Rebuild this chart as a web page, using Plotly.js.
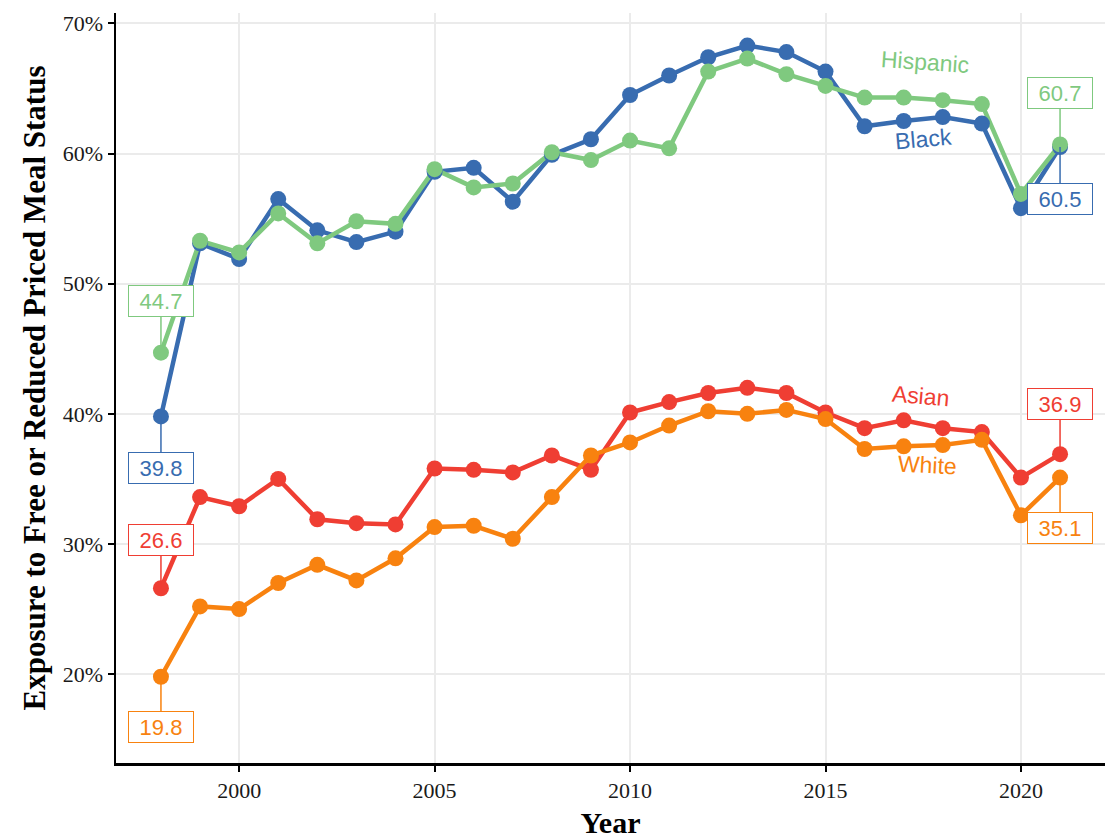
<!DOCTYPE html>
<html>
<head>
<meta charset="utf-8">
<script src="https://cdn.plot.ly/plotly-3.0.1.min.js"></script>
<style>html,body{margin:0;padding:0;background:#fff;}#chart{width:1109px;height:840px;}</style>
</head>
<body>
<div id="chart"></div>
<script>
const years = [1998,1999,2000,2001,2002,2003,2004,2005,2006,2007,2008,2009,2010,2011,2012,2013,2014,2015,2016,2017,2018,2019,2020,2021];
const asian    = [26.6,33.6,32.9,35.0,31.9,31.6,31.5,35.8,35.7,35.5,36.8,35.7,40.1,40.9,41.6,42.0,41.6,40.1,38.9,39.5,38.9,38.6,35.1,36.9];
const black    = [39.8,53.1,51.9,56.5,54.1,53.2,54.0,58.6,58.9,56.3,59.9,61.1,64.5,66.0,67.4,68.3,67.8,66.3,62.1,62.5,62.8,62.3,55.8,60.5];
const hispanic = [44.7,53.3,52.4,55.4,53.1,54.8,54.6,58.8,57.4,57.7,60.1,59.5,61.0,60.4,66.3,67.3,66.1,65.2,64.3,64.3,64.1,63.8,56.9,60.7];
const white    = [19.8,25.2,25.0,27.0,28.4,27.2,28.9,31.3,31.4,30.4,33.6,36.8,37.8,39.1,40.2,40.0,40.3,39.6,37.3,37.5,37.6,38.0,32.2,35.1];
const yTicks = [20,30,40,50,60,70];
const xTicks = [2000,2005,2010,2015,2020];

const groups = [
  {name:'Asian', y:asian, color:'#ef3e33'},
  {name:'Black', y:black, color:'#386cb0'},
  {name:'Hispanic', y:hispanic, color:'#7fc97f'},
  {name:'White', y:white, color:'#f8820f'}
];

const traces = [];
groups.forEach(g => traces.push({x:years, y:g.y, mode:'lines', line:{color:g.color, width:4.5}, hoverinfo:'skip', showlegend:false}));
groups.forEach(g => traces.push({x:years, y:g.y, mode:'markers', marker:{color:g.color, size:16}, name:g.name, showlegend:false}));

// value labels at first and last year
const labelOffsets = {
  Asian:    {first:-48, last:-50},
  Black:    {first: 52, last: 52},
  Hispanic: {first:-52, last:-51},
  White:    {first: 50, last: 50}
};
const annotations = [];
groups.forEach(g => {
  const n = g.y.length;
  [['first',0],['last',n-1]].forEach(([k,i]) => {
    annotations.push({
      x: years[i], y: g.y[i], xref:'x', yref:'y',
      text: g.y[i].toFixed(1),
      showarrow:true, arrowhead:0, arrowwidth:1.5, arrowcolor:g.color,
      ax:0, ay:labelOffsets[g.name][k], standoff:0,
      width:60, height:26,
      font:{family:'Liberation Sans, Arial, sans-serif', size:22, color:g.color},
      bgcolor:'#ffffff', bordercolor:g.color, borderwidth:1, borderpad:2
    });
  });
});
// curved-text style group names
const nameLabels = [
  {name:'Hispanic', x:2017.55, y:67.05, angle:4, color:'#7fc97f'},
  {name:'Black',    x:2017.5,  y:61.15, angle:-5, color:'#386cb0'},
  {name:'Asian',    x:2017.45, y:41.4, angle:5, color:'#ef3e33'},
  {name:'White',    x:2017.6,  y:36.1, angle:3, color:'#f8820f'}
];
nameLabels.forEach(l => annotations.push({
  x:l.x, y:l.y, xref:'x', yref:'y', text:l.name, showarrow:false, textangle:l.angle,
  font:{family:'Liberation Sans, Arial, sans-serif', size:23, color:l.color}
}));

const layout = {
  width:1109, height:840,
  margin:{l:116, r:4, t:13, b:77},
  paper_bgcolor:'#ffffff', plot_bgcolor:'#ffffff',
  showlegend:false,
  xaxis:{
    range:[1996.85, 2022.15], tickvals:xTicks, ticktext:xTicks.map(String),
    showgrid:true, gridcolor:'#ebebeb', gridwidth:2, zeroline:false,
    showline:true, linecolor:'#000000', linewidth:2.5,
    ticks:'outside', ticklen:6, tickwidth:2, tickcolor:'#000000',
    tickfont:{family:'Liberation Serif, Times New Roman, serif', size:22, color:'#1a1a1a'},
    title:{text:'<b>Year</b>', font:{family:'Liberation Serif, Times New Roman, serif', size:30, color:'#000'}, standoff:10}
  },
  yaxis:{
    range:[13.17, 70.8], tickvals:yTicks, ticktext:yTicks.map(v => v + '%'),
    showgrid:true, gridcolor:'#ebebeb', gridwidth:2, zeroline:false,
    showline:true, linecolor:'#000000', linewidth:2.5,
    ticks:'outside', ticklen:6, tickwidth:2, tickcolor:'#000000',
    tickfont:{family:'Liberation Serif, Times New Roman, serif', size:22, color:'#1a1a1a'},
    title:{text:'<b>Exposure to Free or Reduced Priced Meal Status</b>', font:{family:'Liberation Serif, Times New Roman, serif', size:31, color:'#000'}, standoff:8}
  },
  annotations:annotations
};

Plotly.newPlot('chart', traces, layout, {displayModeBar:false, staticPlot:true});
</script>
</body>
</html>
